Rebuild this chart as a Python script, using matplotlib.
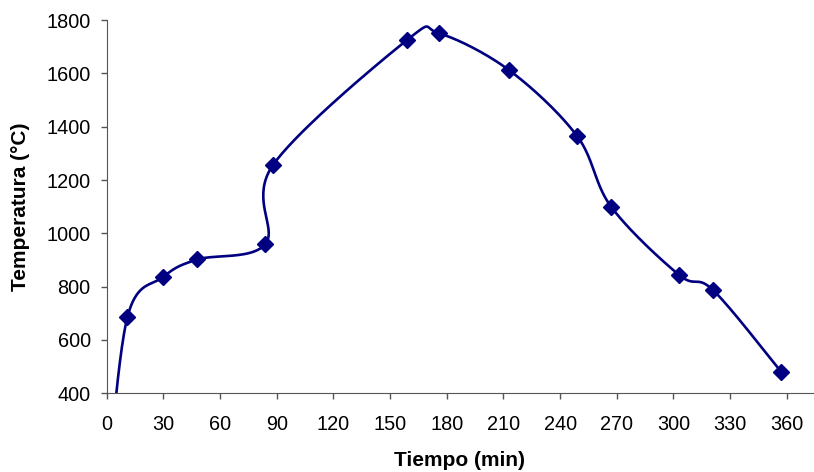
import numpy as np
import matplotlib.pyplot as plt

plt.rcParams['font.family'] = ['Liberation Sans', 'DejaVu Sans']

# Datos
tiempo = [0, 11, 30, 48, 84, 88, 159, 176, 213, 249, 267, 303, 321, 357]
temperatura = [25, 687, 837, 902, 960, 1256, 1725, 1750, 1612, 1365, 1100, 844, 787, 481]
x_ticks = list(range(0, 361, 30))
y_ticks = list(range(400, 1801, 200))


def suavizar(x, y, n=40):
    # curva suavizada estilo Excel (Bezier con tangentes tipo Catmull-Rom)
    p = np.column_stack([x, y]).astype(float)
    p = np.vstack([p[0], p, p[-1]])
    t = np.linspace(0, 1, n)[:, None]
    out = []
    for i in range(1, len(p) - 2):
        p0, p1, p2, p3 = p[i - 1], p[i], p[i + 1], p[i + 2]
        c1 = p1 + (p2 - p0) / 6
        c2 = p2 - (p3 - p1) / 6
        seg = ((1 - t) ** 3) * p1 + 3 * ((1 - t) ** 2) * t * c1 \
            + 3 * (1 - t) * t ** 2 * c2 + t ** 3 * p2
        out.append(seg)
    out = np.vstack(out)
    return out[:, 0], out[:, 1]


fig = plt.figure(figsize=(8.14, 4.72), dpi=100)
ax = fig.add_axes([0.1311, 0.1667, 0.8679, 0.7909])

xs, ys = suavizar(tiempo, temperatura)
ax.plot(xs, ys, color='#000080', lw=1.9)
ax.plot(tiempo, temperatura, linestyle='none', marker='D', markersize=7.8,
        color='#000080')

ax.set_xlim(0, 374)
ax.set_ylim(400, 1800)
ax.set_xticks(x_ticks)
ax.set_yticks(y_ticks)
ax.tick_params(direction='out', length=4.5, width=1, labelsize=14.3,
               colors='#555555', labelcolor='black')
ax.tick_params(axis='x', pad=11)
ax.tick_params(axis='y', pad=7)
for s in ['top', 'right']:
    ax.spines[s].set_visible(False)
for s in ['left', 'bottom']:
    ax.spines[s].set_color('#555555')

ax.set_xlabel('Tiempo (min)', fontsize=15, fontweight='bold')
ax.set_ylabel('Temperatura (°C)', fontsize=15, fontweight='bold')
ax.xaxis.set_label_coords(0.5, -0.1787)
ax.xaxis.label.set_va('center')
ax.yaxis.set_label_coords(-0.1227, 0.5)
ax.yaxis.label.set_va('center')

fig.savefig('out.png', dpi=100)
